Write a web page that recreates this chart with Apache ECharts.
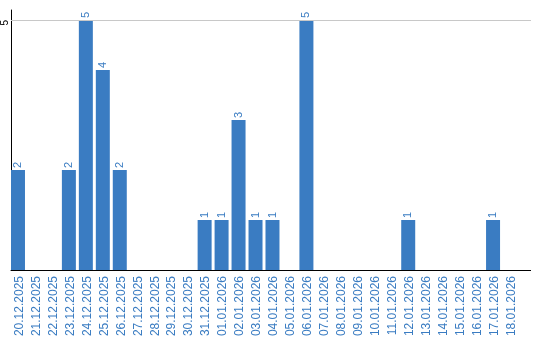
<!DOCTYPE html>
<html><head><meta charset="utf-8">
<script src="https://cdn.jsdelivr.net/npm/echarts@6/dist/echarts.min.js"></script>
<style>html,body{margin:0;padding:0;background:#fff}#c{width:540px;height:340px}</style>
</head><body><div id="c"></div>
<script>
const categories = ["20.12.2025","21.12.2025","22.12.2025","23.12.2025","24.12.2025","25.12.2025","26.12.2025","27.12.2025","28.12.2025","29.12.2025","30.12.2025","31.12.2025","01.01.2026","02.01.2026","03.01.2026","04.01.2026","05.01.2026","06.01.2026","07.01.2026","08.01.2026","09.01.2026","10.01.2026","11.01.2026","12.01.2026","13.01.2026","14.01.2026","15.01.2026","16.01.2026","17.01.2026","18.01.2026"];
const values = [2,0,0,2,5,4,2,0,0,0,0,1,1,3,1,1,0,5,0,0,0,0,0,1,0,0,0,0,1,0];
const yTickLabels = ["5"];

const BLUE = '#3a7cc2';
const chart = echarts.init(document.getElementById('c'), null, {renderer:'canvas'});
chart.setOption({
  animation: false,
  grid: {left: 10, top: 10, width: 510, height: 260, containLabel: false},
  xAxis: {
    type: 'category', data: categories,
    axisLine: {lineStyle: {color: '#000', width: 1}},
    axisTick: {show: false},
    axisLabel: {rotate: 90, interval: 0, color: BLUE, fontSize: 12, fontFamily: 'Liberation Sans, Arial', margin: 6}
  },
  yAxis: {
    type: 'value', min: 0, max: 5.2, interval: 5,
    axisLine: {show: true, lineStyle: {color: '#000', width: 1}},
    axisTick: {show: false},
    splitLine: {show: false},
    axisLabel: {rotate: 90, color: '#000', fontSize: 10, fontFamily: 'Liberation Sans, Arial', margin: 1,
      align: 'right', verticalAlign: 'bottom',
      formatter: v => yTickLabels.indexOf(String(v)) >= 0 ? String(v) : ''}
  },
  series: [{
    type: 'bar', data: values.map(v => v === 0 ? null : v),
    barWidth: 14, barGap: '0%',
    itemStyle: {color: BLUE},
    label: {show: true, position: 'top', rotate: 90, align: 'left', verticalAlign: 'middle', distance: 2,
      color: BLUE, fontSize: 11, fontFamily: 'Liberation Sans, Arial'},
    markLine: {silent: true, symbol: 'none', label: {show: false},
      lineStyle: {color: '#c8c8c8', type: 'solid', width: 1},
      data: [{yAxis: Number(yTickLabels[0])}]}
  }, {
    type: 'bar', data: values.map(() => null), barWidth: 3, barGap: '0%', silent: true
  }]
});
const p5 = chart.convertToPixel({gridIndex: 0}, [categories.length - 1, Number(yTickLabels[0])]);
const p0 = chart.convertToPixel({gridIndex: 0}, [categories.length - 1, 0]);
chart.setOption({graphic: [
  {type: 'line', shape: {x1: 520, y1: Math.round(p5[1]) + 0.5, x2: 531, y2: Math.round(p5[1]) + 0.5}, style: {stroke: '#c8c8c8', lineWidth: 1}, silent: true},
  {type: 'line', shape: {x1: 520, y1: Math.round(p0[1]) + 0.5, x2: 531, y2: Math.round(p0[1]) + 0.5}, style: {stroke: '#000', lineWidth: 1}, silent: true}
]});
</script></body></html>
